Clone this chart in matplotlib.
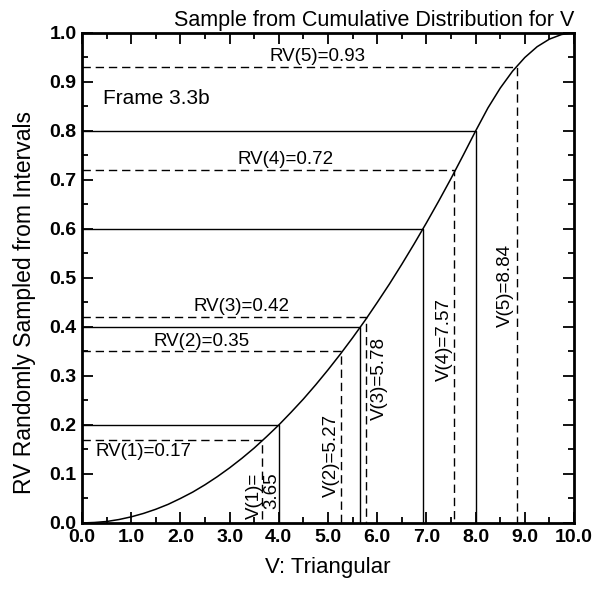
import matplotlib
matplotlib.use("Agg")
import matplotlib.pyplot as plt
from matplotlib.ticker import MultipleLocator, FormatStrFormatter

# Cumulative distribution of V (triangular on 0..10)
v_grid = [0.0, 0.25, 0.5, 0.75, 1.0, 1.25, 1.5, 1.75, 2.0, 2.25, 2.5, 2.75,
          3.0, 3.25, 3.5, 3.75, 4.0, 4.25, 4.5, 4.75, 5.0, 5.25, 5.5, 5.75,
          6.0, 6.25, 6.5, 6.75, 7.0, 7.25, 7.5, 7.75, 8.0, 8.25, 8.5, 8.75,
          9.0, 9.25, 9.5, 9.75, 10.0]
cdf = [0.0, 0.001, 0.003, 0.007, 0.0125, 0.0195, 0.028, 0.038, 0.05, 0.063,
       0.078, 0.0945, 0.1125, 0.132, 0.153, 0.176, 0.2, 0.226, 0.253, 0.282,
       0.3125, 0.3445, 0.378, 0.413, 0.45, 0.488, 0.528, 0.5695, 0.6125,
       0.657, 0.703, 0.751, 0.8, 0.847, 0.8875, 0.922, 0.95, 0.972, 0.9875,
       0.997, 1.0]

# Interval boundaries (equal-probability strata) and where they hit the CDF
interval_rv = [0.2, 0.4, 0.6, 0.8]
interval_v = [4.0, 5.66, 6.93, 8.0]

# Random numbers drawn within each interval and the resulting samples of V
sample_rv = [0.17, 0.35, 0.42, 0.72, 0.93]
sample_v = [3.65, 5.27, 5.78, 7.57, 8.84]

rv_labels = ["RV(1)=0.17", "RV(2)=0.35", "RV(3)=0.42", "RV(4)=0.72", "RV(5)=0.93"]
v_labels = ["V(1)=\n3.65", "V(2)=5.27", "V(3)=5.78", "V(4)=7.57", "V(5)=8.84"]

plt.rcParams["font.family"] = ["Liberation Sans", "DejaVu Sans"]

fig = plt.figure(figsize=(6.11, 5.89), dpi=100)
ax = fig.add_axes([0.1342, 0.1121, 0.8053, 0.8319])

ax.plot(v_grid, cdf, color="black", lw=1.1)

for r, v in zip(interval_rv, interval_v):
    ax.plot([0, v, v], [r, r, 0], color="black", lw=1.0)

dash = (0, (6, 3.5))
for r, v in zip(sample_rv, sample_v):
    ax.plot([0, v, v], [r, r, 0], color="black", lw=1.0, linestyle=dash)

fs = 13.5
# Labels for the sampled random numbers
ax.text(1.25, 0.163, rv_labels[0], ha="center", va="top", fontsize=fs)
ax.text(2.43, 0.354, rv_labels[1], ha="center", va="bottom", fontsize=fs)
ax.text(3.24, 0.424, rv_labels[2], ha="center", va="bottom", fontsize=fs)
ax.text(4.13, 0.724, rv_labels[3], ha="center", va="bottom", fontsize=fs)
ax.text(4.78, 0.934, rv_labels[4], ha="center", va="bottom", fontsize=fs)

# Labels for the sampled values of V
ax.text(3.68, 0.056, v_labels[0], ha="center", va="center", rotation=90,
        fontsize=fs, multialignment="right", linespacing=1.0)
ax.text(5.06, 0.137, v_labels[1], ha="center", va="center", rotation=90, fontsize=fs)
ax.text(6.04, 0.294, v_labels[2], ha="center", va="center", rotation=90, fontsize=fs)
ax.text(7.37, 0.375, v_labels[3], ha="center", va="center", rotation=90, fontsize=fs)
ax.text(8.61, 0.484, v_labels[4], ha="center", va="center", rotation=90, fontsize=fs)

ax.text(0.43, 0.867, "Frame 3.3b", ha="left", va="center", fontsize=15)

ax.set_xlim(0, 10)
ax.set_ylim(0, 1)
ax.xaxis.set_major_locator(MultipleLocator(1.0))
ax.xaxis.set_minor_locator(MultipleLocator(0.5))
ax.yaxis.set_major_locator(MultipleLocator(0.1))
ax.yaxis.set_minor_locator(MultipleLocator(0.05))
ax.xaxis.set_major_formatter(FormatStrFormatter("%.1f"))
ax.yaxis.set_major_formatter(FormatStrFormatter("%.1f"))
ax.tick_params(which="both", direction="in", top=True, right=True, width=1.3)
ax.tick_params(which="major", length=8, labelsize=14, pad=4)
ax.tick_params(which="minor", length=4.5)
for lbl in ax.get_xticklabels() + ax.get_yticklabels():
    lbl.set_fontweight("bold")
for s in ax.spines.values():
    s.set_linewidth(2.0)

ax.set_xlabel("V: Triangular", fontsize=16, labelpad=8)
ax.set_ylabel("RV Randomly Sampled from Intervals", fontsize=16.5)
ax.yaxis.set_label_coords(-0.093, 0.45)
ax.set_title("Sample from Cumulative Distribution for V", loc="right",
             fontsize=15.5, pad=5)

fig.savefig("out.png", dpi=100)
